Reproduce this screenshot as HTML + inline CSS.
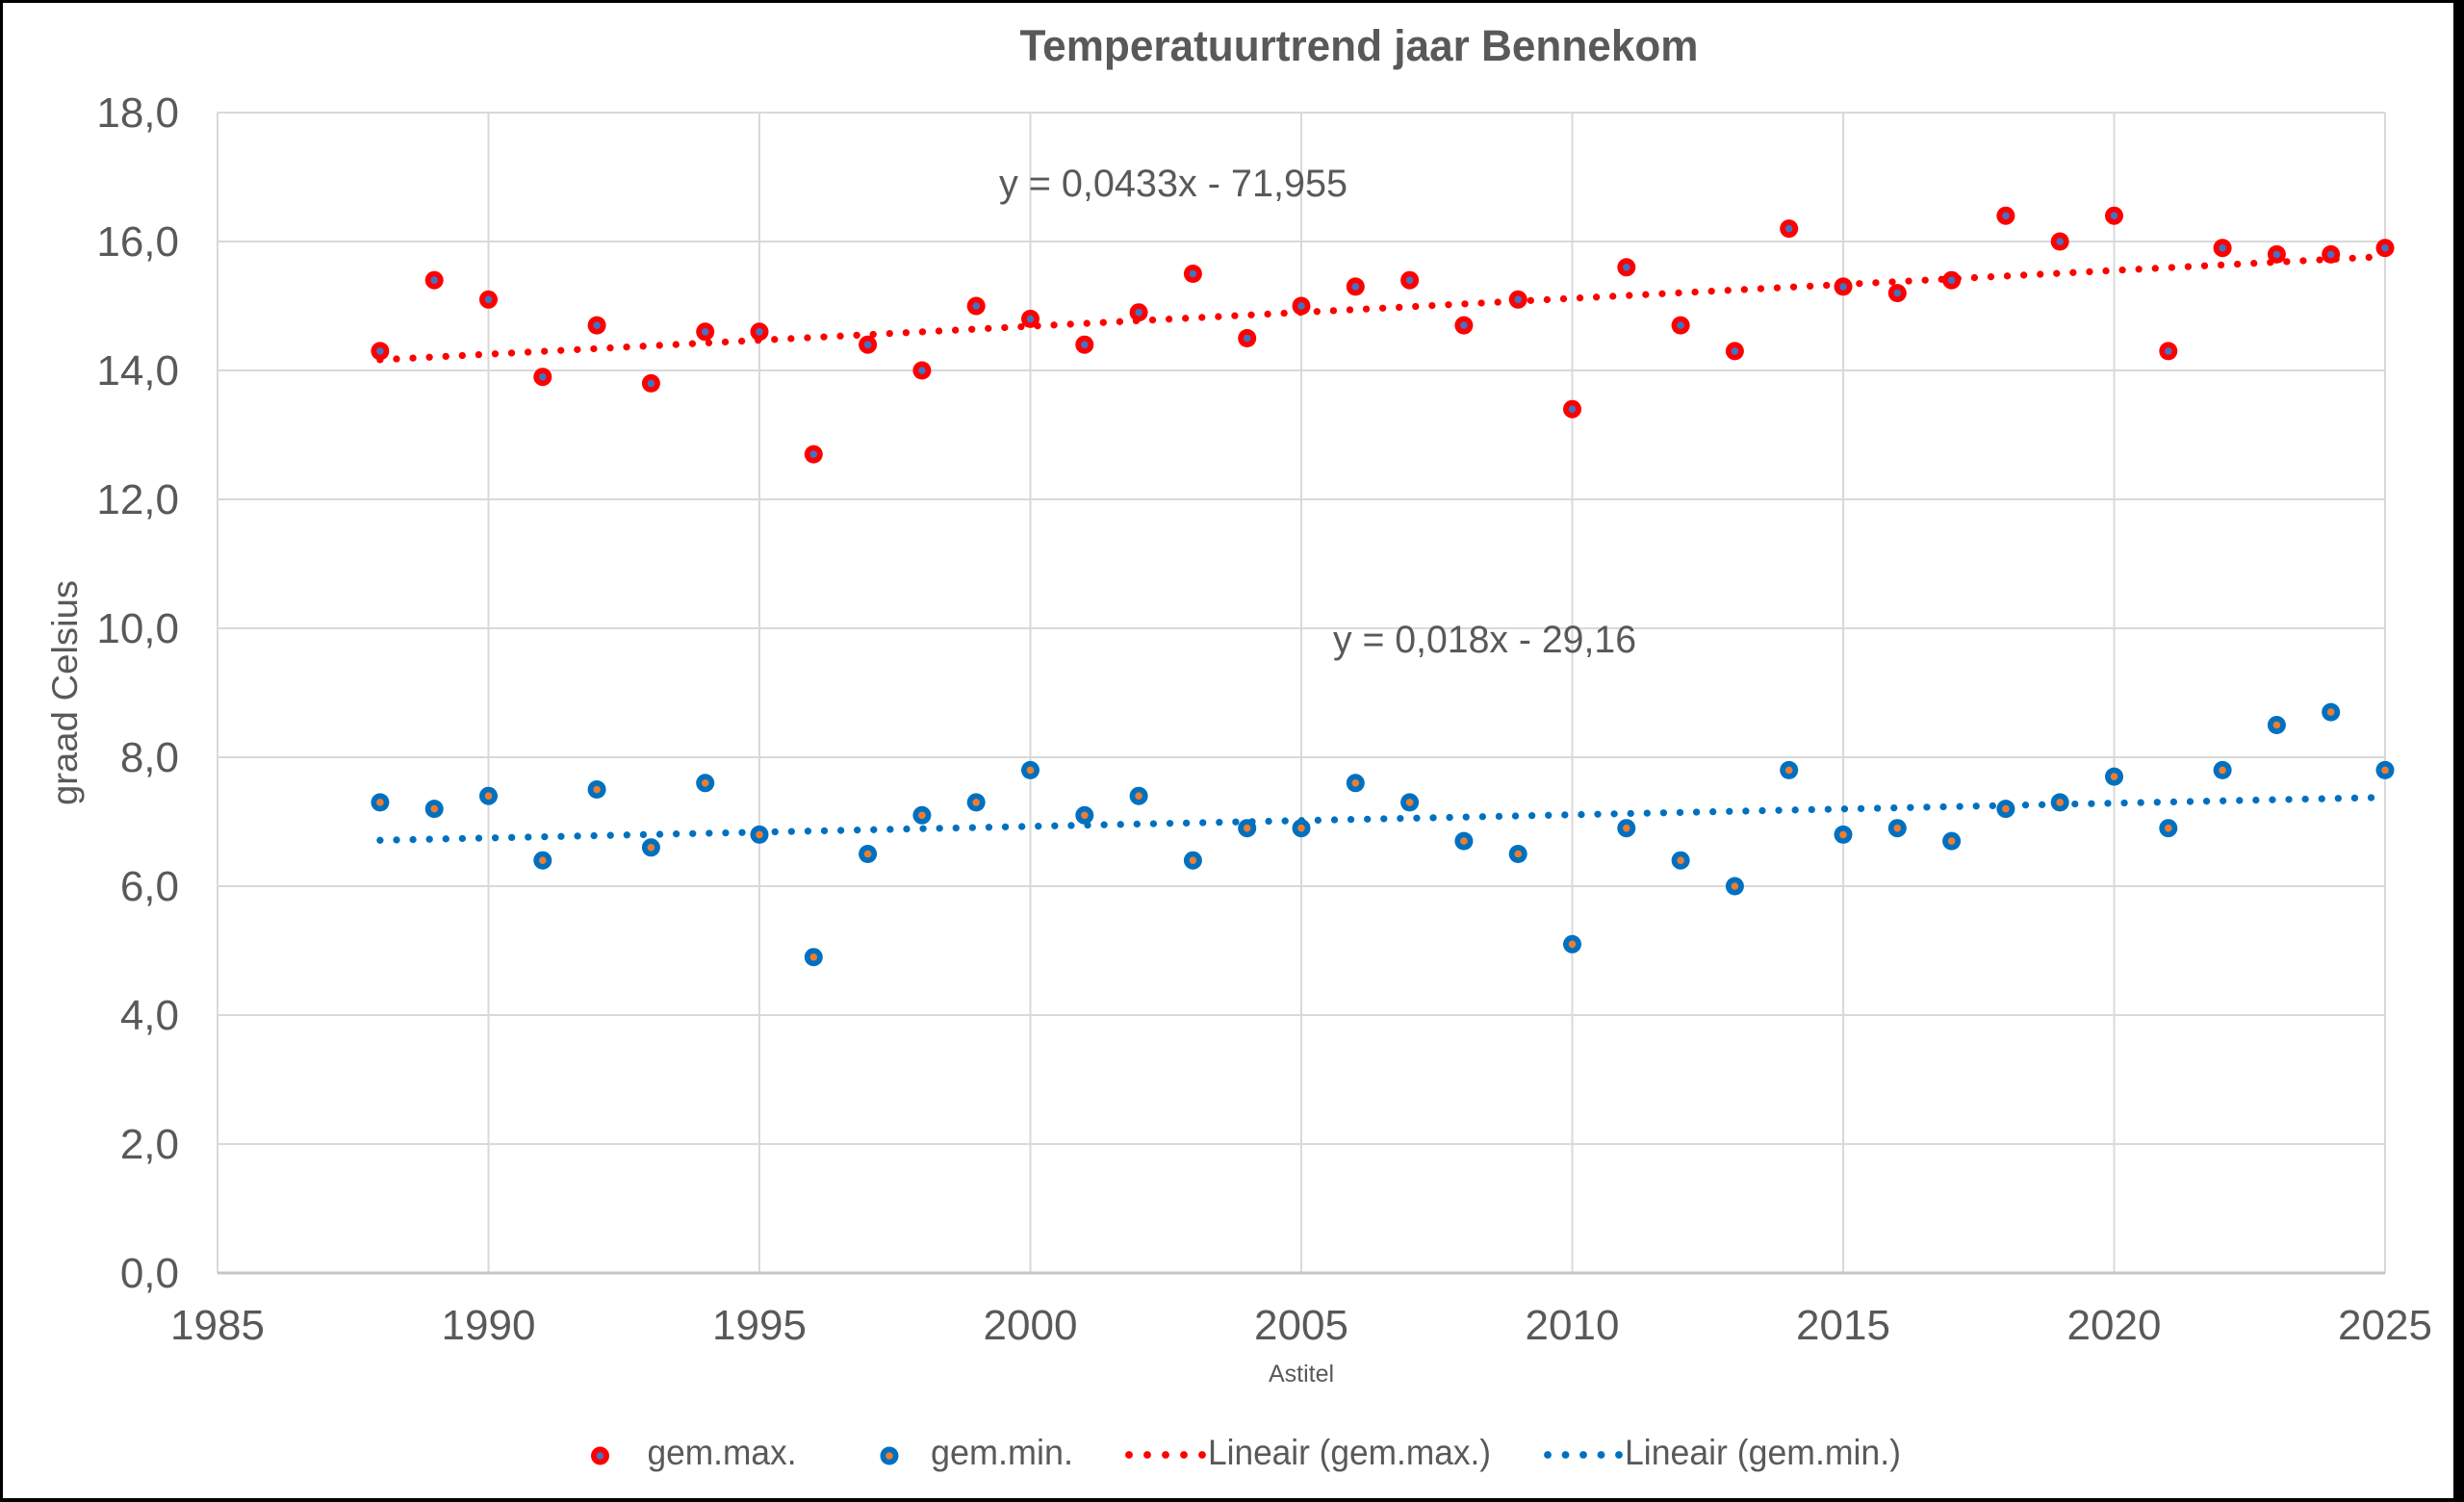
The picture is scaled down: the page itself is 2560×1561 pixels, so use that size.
<!DOCTYPE html>
<html><head><meta charset="utf-8"><style>
html,body{margin:0;padding:0;background:#fff;}
svg{display:block;}
text{font-family:"Liberation Sans",Arial,sans-serif;fill:#595959;}
</style></head><body>
<svg width="2560" height="1561" viewBox="0 0 2560 1561" xmlns="http://www.w3.org/2000/svg">
<rect x="0" y="0" width="2560" height="1561" fill="#fff"/>
<!-- border -->
<rect x="0" y="0" width="2560" height="3" fill="#000"/>
<rect x="0" y="1557" width="2560" height="4" fill="#000"/>
<rect x="0" y="0" width="3" height="1561" fill="#000"/>
<rect x="2549" y="0" width="11" height="1561" fill="#000"/>

<!-- title -->
<text x="1412" y="63" font-size="45" font-weight="bold" text-anchor="middle" textLength="705" lengthAdjust="spacingAndGlyphs">Temperatuurtrend jaar Bennekom</text>

<!-- horizontal gridlines -->
<g stroke="#D9D9D9" stroke-width="2">
<line x1="226" y1="117" x2="2478" y2="117"/>
<line x1="226" y1="251" x2="2478" y2="251"/>
<line x1="226" y1="385" x2="2478" y2="385"/>
<line x1="226" y1="519" x2="2478" y2="519"/>
<line x1="226" y1="653" x2="2478" y2="653"/>
<line x1="226" y1="787" x2="2478" y2="787"/>
<line x1="226" y1="921" x2="2478" y2="921"/>
<line x1="226" y1="1055" x2="2478" y2="1055"/>
<line x1="226" y1="1189" x2="2478" y2="1189"/>
</g>
<!-- vertical gridlines -->
<g stroke="#D9D9D9" stroke-width="2">
<line x1="226" y1="117" x2="226" y2="1323"/>
<line x1="507.5" y1="117" x2="507.5" y2="1323"/>
<line x1="789" y1="117" x2="789" y2="1323"/>
<line x1="1070.5" y1="117" x2="1070.5" y2="1323"/>
<line x1="1352" y1="117" x2="1352" y2="1323"/>
<line x1="1633.5" y1="117" x2="1633.5" y2="1323"/>
<line x1="1915" y1="117" x2="1915" y2="1323"/>
<line x1="2196.5" y1="117" x2="2196.5" y2="1323"/>
<line x1="2478" y1="117" x2="2478" y2="1323"/>
</g>
<line x1="226" y1="1323" x2="2478" y2="1323" stroke="#C6C6C6" stroke-width="3"/>

<!-- y tick labels -->
<g font-size="44" text-anchor="end">
<text x="186" y="132">18,0</text>
<text x="186" y="266">16,0</text>
<text x="186" y="400">14,0</text>
<text x="186" y="534">12,0</text>
<text x="186" y="668">10,0</text>
<text x="186" y="802">8,0</text>
<text x="186" y="936">6,0</text>
<text x="186" y="1070">4,0</text>
<text x="186" y="1204">2,0</text>
<text x="186" y="1338">0,0</text>
</g>
<!-- x tick labels -->
<g font-size="44" text-anchor="middle">
<text x="226" y="1392">1985</text>
<text x="507.5" y="1392">1990</text>
<text x="789" y="1392">1995</text>
<text x="1070.5" y="1392">2000</text>
<text x="1352" y="1392">2005</text>
<text x="1633.5" y="1392">2010</text>
<text x="1915" y="1392">2015</text>
<text x="2196.5" y="1392">2020</text>
<text x="2478" y="1392">2025</text>
</g>

<!-- axis titles -->
<text x="1352" y="1436" font-size="25" text-anchor="middle">Astitel</text>
<text transform="translate(80,720) rotate(-90)" x="0" y="0" font-size="37" text-anchor="middle" textLength="234" lengthAdjust="spacingAndGlyphs">graad Celsius</text>

<!-- trendlines -->
<line x1="394.9" y1="373.9" x2="2478" y2="266.6" stroke="#FF0000" stroke-width="7.3" stroke-linecap="round" stroke-dasharray="0 17.1"/>
<line x1="394.9" y1="873.3" x2="2478" y2="828.7" stroke="#0070C0" stroke-width="7.3" stroke-linecap="round" stroke-dasharray="0 17.1"/>

<!-- equations -->
<text x="1038" y="204" font-size="40" textLength="362" lengthAdjust="spacingAndGlyphs">y = 0,0433x - 71,955</text>
<text x="1385" y="678" font-size="40" textLength="315" lengthAdjust="spacingAndGlyphs">y = 0,018x - 29,16</text>

<g>
<defs>
<g id="mx"><circle r="9.5" fill="#FF0000"/><circle r="3.8" fill="#4472C4"/></g>
<g id="mn"><circle r="9.5" fill="#0070C0"/><circle r="3.8" fill="#ED7D31"/></g>
</defs>
<use href="#mx" x="394.9" y="364.9"/>
<use href="#mx" x="451.2" y="291.2"/>
<use href="#mx" x="507.5" y="311.3"/>
<use href="#mx" x="563.8" y="391.7"/>
<use href="#mx" x="620.1" y="338.1"/>
<use href="#mx" x="676.4" y="398.4"/>
<use href="#mx" x="732.7" y="344.8"/>
<use href="#mx" x="789.0" y="344.8"/>
<use href="#mx" x="845.3" y="472.1"/>
<use href="#mx" x="901.6" y="358.2"/>
<use href="#mx" x="957.9" y="385"/>
<use href="#mx" x="1014.2" y="318"/>
<use href="#mx" x="1070.5" y="331.4"/>
<use href="#mx" x="1126.8" y="358.2"/>
<use href="#mx" x="1183.1" y="324.7"/>
<use href="#mx" x="1239.4" y="284.5"/>
<use href="#mx" x="1295.7" y="351.5"/>
<use href="#mx" x="1352.0" y="318"/>
<use href="#mx" x="1408.3" y="297.9"/>
<use href="#mx" x="1464.6" y="291.2"/>
<use href="#mx" x="1520.9" y="338.1"/>
<use href="#mx" x="1577.2" y="311.3"/>
<use href="#mx" x="1633.5" y="425.2"/>
<use href="#mx" x="1689.8" y="277.8"/>
<use href="#mx" x="1746.1" y="338.1"/>
<use href="#mx" x="1802.4" y="364.9"/>
<use href="#mx" x="1858.7" y="237.6"/>
<use href="#mx" x="1915.0" y="297.9"/>
<use href="#mx" x="1971.3" y="304.6"/>
<use href="#mx" x="2027.6" y="291.2"/>
<use href="#mx" x="2083.9" y="224.2"/>
<use href="#mx" x="2140.2" y="251"/>
<use href="#mx" x="2196.5" y="224.2"/>
<use href="#mx" x="2252.8" y="364.9"/>
<use href="#mx" x="2309.1" y="257.7"/>
<use href="#mx" x="2365.4" y="264.4"/>
<use href="#mx" x="2421.7" y="264.4"/>
<use href="#mx" x="2478.0" y="257.7"/>

<use href="#mn" x="394.9" y="833.9"/>
<use href="#mn" x="451.2" y="840.6"/>
<use href="#mn" x="507.5" y="827.2"/>
<use href="#mn" x="563.8" y="894.2"/>
<use href="#mn" x="620.1" y="820.5"/>
<use href="#mn" x="676.4" y="880.8"/>
<use href="#mn" x="732.7" y="813.8"/>
<use href="#mn" x="789.0" y="867.4"/>
<use href="#mn" x="845.3" y="994.7"/>
<use href="#mn" x="901.6" y="887.5"/>
<use href="#mn" x="957.9" y="847.3"/>
<use href="#mn" x="1014.2" y="833.9"/>
<use href="#mn" x="1070.5" y="800.4"/>
<use href="#mn" x="1126.8" y="847.3"/>
<use href="#mn" x="1183.1" y="827.2"/>
<use href="#mn" x="1239.4" y="894.2"/>
<use href="#mn" x="1295.7" y="860.7"/>
<use href="#mn" x="1352.0" y="860.7"/>
<use href="#mn" x="1408.3" y="813.8"/>
<use href="#mn" x="1464.6" y="833.9"/>
<use href="#mn" x="1520.9" y="874.1"/>
<use href="#mn" x="1577.2" y="887.5"/>
<use href="#mn" x="1633.5" y="981.3"/>
<use href="#mn" x="1689.8" y="860.7"/>
<use href="#mn" x="1746.1" y="894.2"/>
<use href="#mn" x="1802.4" y="921"/>
<use href="#mn" x="1858.7" y="800.4"/>
<use href="#mn" x="1915.0" y="867.4"/>
<use href="#mn" x="1971.3" y="860.7"/>
<use href="#mn" x="2027.6" y="874.1"/>
<use href="#mn" x="2083.9" y="840.6"/>
<use href="#mn" x="2140.2" y="833.9"/>
<use href="#mn" x="2196.5" y="807.1"/>
<use href="#mn" x="2252.8" y="860.7"/>
<use href="#mn" x="2309.1" y="800.4"/>
<use href="#mn" x="2365.4" y="753.5"/>
<use href="#mn" x="2421.7" y="740.1"/>
<use href="#mn" x="2478.0" y="800.4"/>
</g>

<!-- legend -->
<use href="#mx" x="623.5" y="1513"/>
<text x="672.5" y="1522" font-size="37" textLength="155" lengthAdjust="spacingAndGlyphs">gem.max.</text>
<use href="#mn" x="924" y="1513"/>
<text x="967" y="1522" font-size="37" textLength="148" lengthAdjust="spacingAndGlyphs">gem.min.</text>
<g fill="#FF0000">
<circle cx="1173" cy="1512" r="3.9"/>
<circle cx="1192" cy="1512" r="3.9"/>
<circle cx="1211" cy="1512" r="3.9"/>
<circle cx="1230" cy="1512" r="3.9"/>
<circle cx="1249" cy="1512" r="3.9"/>
</g>
<text x="1255" y="1522" font-size="37" textLength="294" lengthAdjust="spacingAndGlyphs">Lineair (gem.max.)</text>
<g fill="#0070C0">
<circle cx="1608" cy="1512" r="3.9"/>
<circle cx="1626.5" cy="1512" r="3.9"/>
<circle cx="1645" cy="1512" r="3.9"/>
<circle cx="1663.5" cy="1512" r="3.9"/>
<circle cx="1682" cy="1512" r="3.9"/>
</g>
<text x="1688" y="1522" font-size="37" textLength="287" lengthAdjust="spacingAndGlyphs">Lineair (gem.min.)</text>
</svg>
</body></html>
